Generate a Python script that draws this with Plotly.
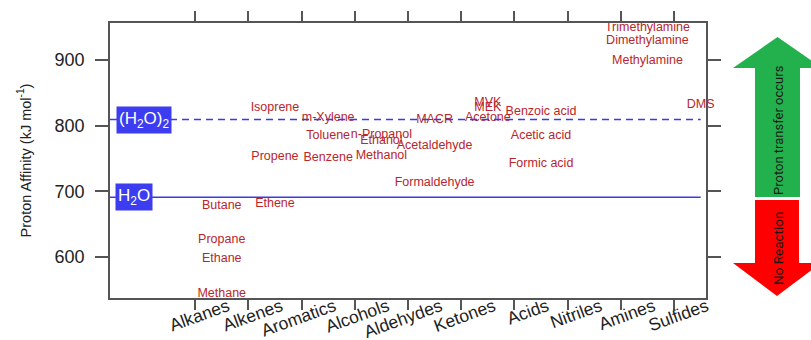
import plotly.graph_objects as go

categories = ["Alkanes", "Alkenes", "Aromatics", "Alcohols", "Aldehydes",
              "Ketones", "Acids", "Nitriles", "Amines", "Sulfides"]

compounds = ["Methane", "Ethane", "Propane", "Butane",
             "Ethene", "Propene", "Isoprene",
             "Benzene", "Toluene", "m-Xylene",
             "Methanol", "Ethanol", "n-Propanol",
             "Formaldehyde", "Acetaldehyde", "MACR",
             "Acetone", "MEK", "MVK",
             "Formic acid", "Acetic acid", "Benzoic acid",
             "Methylamine", "Dimethylamine", "Trimethylamine",
             "DMS"]
compound_class = ["Alkanes", "Alkanes", "Alkanes", "Alkanes",
                  "Alkenes", "Alkenes", "Alkenes",
                  "Aromatics", "Aromatics", "Aromatics",
                  "Alcohols", "Alcohols", "Alcohols",
                  "Aldehydes", "Aldehydes", "Aldehydes",
                  "Ketones", "Ketones", "Ketones",
                  "Acids", "Acids", "Acids",
                  "Amines", "Amines", "Amines",
                  "Sulfides"]
proton_affinity = [543.5, 596.3, 625.7, 678.0,
                   680.5, 751.6, 826.4,
                   750.4, 784.0, 812.1,
                   754.3, 776.4, 786.5,
                   712.9, 768.5, 808.7,
                   812.0, 827.3, 834.7,
                   742.0, 783.7, 821.1,
                   899.0, 929.5, 948.9,
                   830.9]

pa_water = 691.0
pa_water_dimer = 809.0

y_ticks = [600, 700, 800, 900]

# plot-area pixel geometry helpers (figure 811x340)
L, R, T, B = 110, 706, 23, 298
W, H = R - L, B - T


def px(x):
    return (x - L) / W


def py(y):
    return (B - y) / H


fig = go.Figure()

fig.add_trace(go.Scatter(
    x=compound_class, y=proton_affinity, text=compounds,
    mode="text", textposition="middle center",
    textfont=dict(family="Liberation Sans, Arial, sans-serif", size=12.5, color="#b8262c"),
    cliponaxis=False, showlegend=False, hoverinfo="text"))

line_blue = "#3b3be6"
shapes = [
    dict(type="line", xref="x", yref="y", x0=-2.1, x1=9, y0=pa_water, y1=pa_water,
         line=dict(color=line_blue, width=1.5)),
    dict(type="line", xref="x", yref="y", x0=-2.1, x1=9, y0=pa_water_dimer, y1=pa_water_dimer,
         line=dict(color=line_blue, width=1.5, dash="7px,5px")),
]

# green "proton transfer" arrow (up)
g_pts = [(755, 197), (755, 68), (733, 68), (777.5, 37), (822, 68), (800, 68), (800, 197)]
g_path = "M " + " L ".join(f"{px(a):.4f},{py(b):.4f}" for a, b in g_pts) + " Z"
shapes.append(dict(type="path", xref="paper", yref="paper", path=g_path,
                   fillcolor="#22b14c", line=dict(width=0)))
# red "no reaction" arrow (down)
r_pts = [(755, 200), (755, 263), (733, 263), (777, 296), (821, 263), (799, 263), (799, 200)]
r_path = "M " + " L ".join(f"{px(a):.4f},{py(b):.4f}" for a, b in r_pts) + " Z"
shapes.append(dict(type="path", xref="paper", yref="paper", path=r_path,
                   fillcolor="#ff0000", line=dict(width=0)))

box_blue = "#3c3cf0"
annotations = [
    dict(xref="paper", yref="y", x=px(115), y=pa_water, xanchor="left", yanchor="middle",
         text="H<sub>2</sub>O", showarrow=False, bgcolor=box_blue, borderpad=2,
         font=dict(family="Liberation Sans, Arial, sans-serif", size=17, color="white")),
    dict(xref="paper", yref="y", x=px(115.5), y=pa_water_dimer, xanchor="left", yanchor="middle",
         text="(H<sub>2</sub>O)<sub>2</sub>", showarrow=False, bgcolor=box_blue, borderpad=2,
         font=dict(family="Liberation Sans, Arial, sans-serif", size=17, color="white")),
    dict(xref="paper", yref="paper", x=px(778), y=py(130), xanchor="center", yanchor="middle",
         text="Proton transfer occurs", textangle=-90, showarrow=False,
         font=dict(family="Roboto, sans-serif", size=13, color="#1a1a1a")),
    dict(xref="paper", yref="paper", x=px(778), y=py(249), xanchor="center", yanchor="middle",
         text="No Reaction", textangle=-90, showarrow=False,
         font=dict(family="Roboto, sans-serif", size=13.5, color="#1a1a1a")),
]

axis_color = "#555555"
fig.update_layout(
    width=811, height=340,
    margin=dict(l=L, r=811 - R, t=T, b=340 - B),
    paper_bgcolor="white", plot_bgcolor="white",
    shapes=shapes, annotations=annotations,
    xaxis=dict(type="category", categoryorder="array", categoryarray=categories,
               range=[-2.1, 9.1], tickson="boundaries", ticks="outside", ticklen=10,
               tickwidth=1.5, tickcolor=axis_color, tickangle=-20, automargin=False,
               ticklabelshift=6, ticklabelstandoff=-10,
               showline=True, linecolor=axis_color, linewidth=1.5, mirror="ticks",
               showgrid=False, zeroline=False,
               tickfont=dict(family="Liberation Sans, Arial, sans-serif", size=17.5, color="#222222")),
    yaxis=dict(range=[537.5, 956], tickvals=y_ticks, ticks="outside", ticklen=13,
               tickwidth=1.5, tickcolor=axis_color, automargin=False, ticklabelstandoff=7,
               showline=True, linecolor=axis_color, linewidth=1.5, mirror="ticks",
               showgrid=False, zeroline=False,
               tickfont=dict(family="Liberation Sans, Arial, sans-serif", size=18, color="#222222"),
               title=dict(text="Proton Affinity (kJ mol<sup>-1</sup>)", standoff=20,
                          font=dict(family="Liberation Sans, Arial, sans-serif", size=14.5,
                                    color="#222222"))),
)

fig.write_html("out.html", post_script="document.body.style.margin='0';",
               config={"displayModeBar": False})
